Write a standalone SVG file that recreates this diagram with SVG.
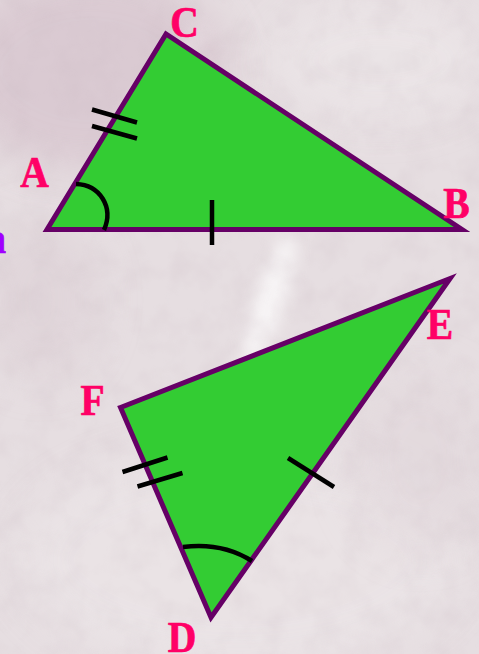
<svg xmlns="http://www.w3.org/2000/svg" width="479" height="654" viewBox="0 0 479 654">
  <defs>
    <style>
      .tri { fill: #33cc33; stroke: #660066; stroke-width: 5; stroke-linejoin: miter; }
      .mark { fill: none; stroke: #000000; stroke-width: 4.5; }
      .lbl { font-family: "Liberation Serif", "Times New Roman", serif; font-weight: bold; font-size: 44px; fill: #ff0066; stroke: #ff0066; stroke-width: 0.7; text-anchor: middle; }
    </style>
    <filter id="blur20" x="-50%" y="-50%" width="200%" height="200%"><feGaussianBlur stdDeviation="20"/></filter>
    <filter id="blur8" x="-50%" y="-50%" width="200%" height="200%"><feGaussianBlur stdDeviation="8"/></filter>
    <filter id="noise" x="0" y="0" width="100%" height="100%">
      <feTurbulence type="fractalNoise" baseFrequency="0.035" numOctaves="3" seed="7"/>
      <feColorMatrix type="matrix" values="0 0 0 0 0.55  0 0 0 0 0.45  0 0 0 0 0.5  0 0 0 0.9 -0.35"/>
    </filter>
  </defs>

  <g id="background">
    <rect x="0" y="0" width="479" height="654" fill="#e6dee1"/>
    <ellipse cx="90" cy="70" rx="140" ry="100" fill="#d6c2cc" opacity="0.7" filter="url(#blur20)"/>
    <ellipse cx="40" cy="300" rx="60" ry="80" fill="#ddd0d6" opacity="0.6" filter="url(#blur20)"/>
    <ellipse cx="380" cy="60" rx="110" ry="60" fill="#ece6e8" opacity="0.8" filter="url(#blur20)"/>
    <ellipse cx="270" cy="300" rx="14" ry="70" fill="#ffffff" opacity="0.7" transform="rotate(18 270 300)" filter="url(#blur8)"/>
    <ellipse cx="160" cy="80" rx="10" ry="70" fill="#f4eef1" opacity="0.6" transform="rotate(40 160 80)" filter="url(#blur8)"/>
    <ellipse cx="240" cy="560" rx="220" ry="110" fill="#ece6e8" opacity="0.7" filter="url(#blur20)"/>
    <ellipse cx="420" cy="460" rx="70" ry="90" fill="#e2d8dc" opacity="0.6" filter="url(#blur20)"/>
    <rect x="0" y="0" width="479" height="654" filter="url(#noise)" opacity="0.35"/>
  </g>

  <g id="triangle-ABC">
    <polygon class="tri" points="47,229.5 166,34 462,229.5"/>
    <path class="mark" d="M92,109.5 L137,122.5 M92,126 L137,138.5"/>
    <path class="mark" d="M212,200 L212,245"/>
    <path class="mark" d="M76,184 C100,185 114,207 104,230"/>
  </g>

  <g id="triangle-DEF">
    <polygon class="tri" points="120.5,407.5 450,278.5 211,617.5"/>
    <path class="mark" d="M122.5,472 L167.5,457.5 M137.5,486.5 L182.5,473"/>
    <path class="mark" d="M288,458 L334,487"/>
    <path class="mark" d="M183,547 Q222,542 252,561"/>
  </g>

  <g id="labels">
    <text class="lbl" transform="translate(184.5,37) scale(0.9,1)">C</text>
    <text class="lbl" transform="translate(34.5,187) scale(0.9,1)">A</text>
    <text class="lbl" transform="translate(456.5,218) scale(0.9,1)">B</text>
    <text class="lbl" transform="translate(440,339) scale(0.9,1)">E</text>
    <text class="lbl" transform="translate(92.5,415) scale(0.9,1)">F</text>
    <text class="lbl" transform="translate(182,652) scale(0.9,1)">D</text>
    <text transform="translate(6,253) scale(0.9,1)" style="font-family: 'Liberation Serif', 'Times New Roman', serif; font-weight: bold; font-size: 44px; fill: #a000ff; stroke: #a000ff; stroke-width: 0.7; text-anchor: end;">a</text>
  </g>
</svg>
